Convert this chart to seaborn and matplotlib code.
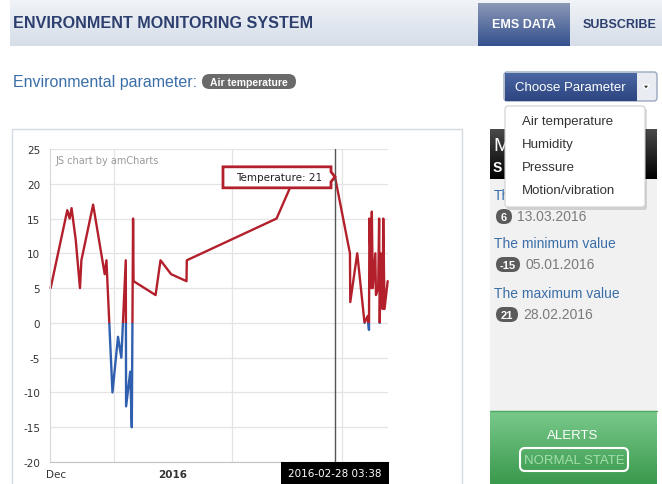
import numpy as np
import pandas as pd
import matplotlib.pyplot as plt
import matplotlib.colors as mcolors
import matplotlib.dates as mdates
from matplotlib.patches import Rectangle, FancyBboxPatch, Polygon
import seaborn as sns

# Temperature readings
times = [
    "2015-12-15 10:00", "2015-12-19 19:00", "2015-12-20 10:00", "2015-12-20 22:00",
    "2015-12-22 00:00", "2015-12-23 03:00", "2015-12-23 12:00", "2015-12-26 14:00",
    "2015-12-29 15:00", "2015-12-30 02:00", "2015-12-31 16:00", "2016-01-02 03:00",
    "2016-01-03 00:00", "2016-01-04 04:00", "2016-01-04 06:00", "2016-01-05 08:00",
    "2016-01-05 18:00", "2016-01-06 02:00", "2016-01-06 05:00", "2016-01-12 00:00",
    "2016-01-13 07:00", "2016-01-16 02:00", "2016-01-20 03:00", "2016-01-20 05:00",
    "2016-02-12 19:00", "2016-02-16 19:00", "2016-02-28 03:38", "2016-03-03 02:00",
    "2016-03-03 04:00", "2016-03-05 00:00", "2016-03-06 22:00", "2016-03-07 18:00",
    "2016-03-08 02:00", "2016-03-08 05:00", "2016-03-08 16:00", "2016-03-08 20:00",
    "2016-03-09 02:00", "2016-03-09 18:00", "2016-03-09 22:00", "2016-03-10 12:00",
    "2016-03-10 18:00", "2016-03-10 22:00", "2016-03-11 04:00", "2016-03-11 16:00",
    "2016-03-11 20:00", "2016-03-12 04:00", "2016-03-13 00:00",
]
temps = [
    5, 16.2, 15, 16.5,
    12, 5, 9, 17,
    7, 9, -10, -2,
    -5, 9, -12, -7,
    -15, 15, 6, 4,
    9, 7, 6, 9,
    15, 20, 21, 10,
    3, 10, 0, 1,
    -1, 15, 5, 16,
    5, 10, 4, 5,
    15, 0, 10, 2,
    15, 2, 6,
]
x_start, x_end = "2015-12-15 06:00", "2016-03-13 02:00"
month_lines = ["2016-01-01", "2016-02-01", "2016-03-01"]
x_label_pos = ["2015-12-16 20:00", "2016-01-16 12:00"]
x_labels = ["Dec", "2016"]
y_ticks = [-20, -15, -10, -5, 0, 5, 10, 15, 20, 25]
cursor_time = "2016-02-28 03:38"
cursor_value = 21

menu_items = ["Air temperature", "Humidity", "Pressure", "Motion/vibration"]
stat_labels = ["Th", "The minimum value", "The maximum value"]
stat_values = ["6", "-15", "21"]
stat_dates = ["13.03.2016", "05.01.2016", "28.02.2016"]

df = pd.DataFrame({"time": pd.to_datetime(times), "temp": temps})

RED = "#b3202c"
BLUE = "#2f5fae"
NAVY = "#2d3f6e"
LINK = "#3b6ea8"

sns.set_style("white")
plt.rcParams["font.family"] = ["Liberation Sans", "DejaVu Sans"]

W, H = 662, 485
fig = plt.figure(figsize=(W / 100, H / 100), dpi=100)
fig.patch.set_facecolor("white")

bg = fig.add_axes([0, 0, 1, 1])
bg.set_autoscale_on(False)
bg.set_xlim(0, W)
bg.set_ylim(H, 0)
bg.axis("off")


def grad(ax, x0, y0, x1, y1, c0, c1, z=1):
    a = np.array(mcolors.to_rgb(c0))
    b = np.array(mcolors.to_rgb(c1))
    t = np.linspace(0, 1, 64)[:, None, None]
    arr = a * (1 - t) + b * t
    ax.imshow(arr, extent=(x0, x1, y1, y0), aspect="auto", origin="upper",
              zorder=z, interpolation="bilinear")


def pill(ax, x, y, w, h, txt, fc="#5e5e5e", size=7.5, z=3):
    ax.add_patch(FancyBboxPatch((x, y), w, h, boxstyle=f"round,pad=0,rounding_size={h / 2}",
                                fc=fc, ec="none", zorder=z))
    ax.text(x + w / 2, y + h / 2 + 0.5, txt, color="white", fontsize=size,
            fontweight="bold", ha="center", va="center", zorder=z + 1)


# header
grad(bg, 10, 0, W, 47, "#f1f4f8", "#d5dde8")
bg.text(13, 24, "ENVIRONMENT MONITORING SYSTEM", fontsize=11.6, fontweight="bold",
        color=NAVY, va="center")
grad(bg, 478, 4, 570, 47, "#8a98b6", "#34508e", z=2)
bg.text(524, 25, "EMS DATA", fontsize=9, fontweight="bold", color="white",
        ha="center", va="center", zorder=3)
bg.text(620, 25, "SUBSCRIBE", fontsize=9, fontweight="bold", color=NAVY,
        ha="center", va="center")

# parameter line
bg.text(13, 82, "Environmental parameter:", fontsize=11.5, color=LINK, va="center")
pill(bg, 202, 75, 94, 15, "Air temperature", fc="#6a6a6a", size=7.5)

# button
bg.add_patch(FancyBboxPatch((504, 73), 153, 29, boxstyle="round,pad=0,rounding_size=3",
                            fc="#e9edf3", ec="#9aa8c0", lw=1, zorder=2))
grad(bg, 504.5, 73.5, 636, 101.5, "#4a66a3", "#2d4580", z=3)
bg.text(570, 88, "Choose Parameter", fontsize=9.5, color="white", ha="center",
        va="center", zorder=4)
bg.add_patch(Polygon([(642.5, 86), (649.5, 86), (646, 90.5)], fc="#333333", zorder=4))

# chart panel
bg.add_patch(Rectangle((12, 130), 450, 370, fc="white", ec="#d5dbe2", lw=1, zorder=1))

# right panel
grad(bg, 490, 130, 657, 180, "#4a4a4a", "#000000", z=2)
bg.text(493, 147, "M", fontsize=14, color="white", va="center", zorder=3)
bg.text(493, 168, "S", fontsize=10, fontweight="bold", color="white", va="center", zorder=3)
bg.add_patch(Rectangle((490, 180), 167, 232, fc="#f1f1f1", ec="none", zorder=2))
label_y = [196, 244, 294]
pill_w = [16, 24, 22]
for lab, val, dt, ly, pw in zip(stat_labels, stat_values, stat_dates, label_y, pill_w):
    bg.text(494, ly, lab, fontsize=10, color=LINK, va="center", zorder=3)
    pill(bg, 496, ly + 14, pw, 15, val, fc="#5b5b5b", size=8)
    bg.text(496 + pw + 5, ly + 21.5, dt, fontsize=10, color="#7a7a7a", va="center", zorder=3)

# alerts box
grad(bg, 490, 412, 657, H, "#79c98b", "#3a994c", z=2)
bg.plot([490, 657], [412, 412], color="#4fa862", lw=1, zorder=3)
bg.text(573, 436, "ALERTS", fontsize=9.5, color="white", ha="center", va="center", zorder=3)
bg.add_patch(FancyBboxPatch((520, 449), 108, 23, boxstyle="round,pad=0,rounding_size=5",
                            fc="none", ec="white", lw=1.5, zorder=3))
bg.text(574, 461, "NORMAL STATE", fontsize=9.5, color="#a3dfae", ha="center",
        va="center", zorder=3)

# dropdown menu
bg.add_patch(FancyBboxPatch((507, 109), 140, 102, boxstyle="round,pad=0,rounding_size=3",
                            fc="#00000022", ec="none", zorder=5))
bg.add_patch(FancyBboxPatch((505, 107), 140, 101, boxstyle="round,pad=0,rounding_size=3",
                            fc="white", ec="#cfcfcf", lw=0.8, zorder=6))
for i, item in enumerate(menu_items):
    bg.text(522, 122.5 + 23 * i, item, fontsize=9.5, color="#333333", va="center", zorder=7)

bg.set_xlim(0, W)
bg.set_ylim(H, 0)

# chart
ax = fig.add_axes([50 / W, (H - 463) / H, 338 / W, 313 / H])
ax.set_zorder(2)
ax.patch.set_alpha(0)
sns.lineplot(data=df, x="time", y="temp", ax=ax, color=RED, lw=1.7,
             sort=False, estimator=None)
sns.lineplot(data=df, x="time", y="temp", ax=ax, color=BLUE, lw=1.7,
             sort=False, estimator=None)
x0 = mdates.date2num(pd.Timestamp(x_start))
x1 = mdates.date2num(pd.Timestamp(x_end))
pos_clip = Rectangle((x0 - 50, 0), 300, 200, transform=ax.transData)
neg_clip = Rectangle((x0 - 50, -200), 300, 200, transform=ax.transData)
lines = ax.get_lines()
lines[0].set_clip_path(pos_clip)
lines[1].set_clip_path(neg_clip)

ax.set_xlim(x0, x1)
ax.set_ylim(-20, 25)
ax.set_yticks(y_ticks, labels=[str(v) for v in y_ticks], fontfamily="DejaVu Sans",
              fontsize=7.5, color="#333333")
ax.set_xticks([mdates.date2num(pd.Timestamp(m)) for m in month_lines], labels=[])
ax.set_xticks([mdates.date2num(pd.Timestamp(m)) for m in x_label_pos], labels=x_labels,
              minor=True, fontfamily="DejaVu Sans", fontsize=7.5, color="#333333")
ax.get_xticklabels(minor=True)[1].set_fontweight("bold")
ax.tick_params(which="both", length=0)
ax.tick_params(axis="y", pad=7)
ax.tick_params(axis="x", which="minor", pad=5)
ax.grid(True, which="major", color="#e4e4e4", lw=0.9)
for s in ["top", "right"]:
    ax.spines[s].set_visible(False)
ax.spines["left"].set_color("#d8d8d8")
ax.spines["bottom"].set_color("#c4c4c4")
ax.set_xlabel("")
ax.set_ylabel("")
cur = mdates.date2num(pd.Timestamp(cursor_time))
ax.axvline(cur, color="#555555", lw=1)
ax.text(0.015, 0.965, "JS chart by amCharts", transform=ax.transAxes, fontsize=7,
        color="#9a9a9a", fontfamily="DejaVu Sans", va="center")

# balloons on top
top = fig.add_axes([0, 0, 1, 1])
top.set_zorder(3)
top.patch.set_alpha(0)
top.set_xlim(0, W)
top.set_ylim(H, 0)
top.axis("off")

dx, dy = ax.transData.transform((cur, cursor_value))
px, py = dx, H - dy
R, L = px - 4, px - 112
T, B = py - 10, py + 11
top.add_patch(Polygon([(L, T), (R, T), (R, py - 5), (px, py), (R, py + 5), (R, B), (L, B)],
                      closed=True, fc="white", ec=RED, lw=2, joinstyle="miter"))
top.text(L + 13, py + 0.5, f"Temperature: {cursor_value}", fontsize=7.5,
         fontfamily="DejaVu Sans", color="#222222", va="center")

ax_bottom = H - ax.transAxes.transform((0, 0))[1]
top.add_patch(Rectangle((px - 54, ax_bottom), 108, 30, fc="black", ec="none"))
top.text(px, ax_bottom + 11, cursor_time, fontsize=7.5, fontfamily="DejaVu Sans",
         color="white", ha="center", va="center")

fig.savefig("out.png", dpi=100)
